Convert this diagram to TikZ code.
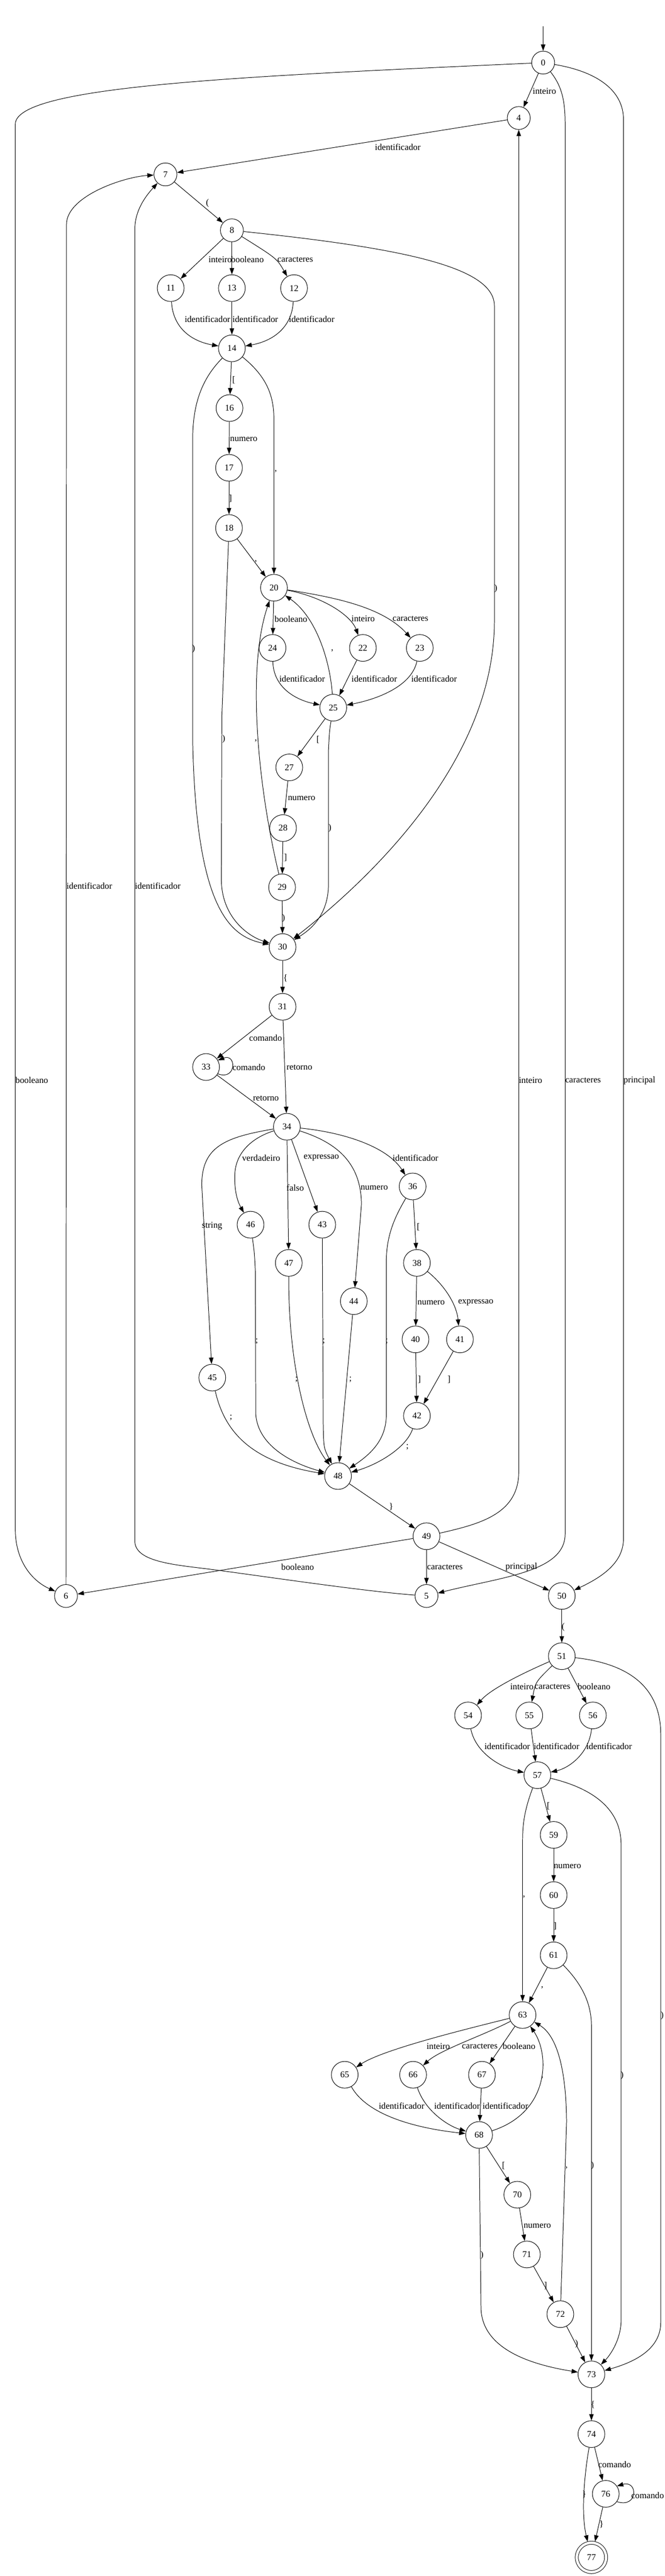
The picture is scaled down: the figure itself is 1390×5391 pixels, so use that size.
\documentclass[tikz,border=0pt]{standalone}
\usepackage{fontspec}
\setmainfont{Liberation Serif}
\usetikzlibrary{arrows.meta}
\newcommand\labw[3]{\node[lbl] (#1) at (#2) {#3};}
\newcommand\labc[3]{\node[lblc] (#1) at (#2) {#3};}
\begin{document}
\begin{tikzpicture}[x=0.75pt,y=-0.75pt,
 st/.style={circle,draw,line width=0.8pt,minimum size=42pt,inner sep=0pt,font=\fontsize{14pt}{16pt}\selectfont},
 sm/.style={st,minimum size=36pt},
 fin/.style={st,minimum size=46pt,double,double distance=4pt,outer sep=2.4pt},
 lbl/.style={inner sep=0pt,anchor=west,font=\fontsize{14pt}{16pt}\selectfont},
 lblc/.style={lbl,anchor=center},
 ed/.style={draw,line width=0.8pt,-{Triangle[length=10pt,width=7pt]}}]
\fill[white] (0,0) rectangle (1390,5391);
\useasboundingbox (0,0) rectangle (1390,5391);
% nodes
\node[sm] (n0) at (1136,131) {0};
\node[sm] (n4) at (1085,247) {4};
\node[sm] (n7) at (346,365) {7};
\node[sm] (n8) at (485,482) {8};
\node[st] (n11) at (357,603) {11};
\node[st] (n13) at (485,603) {13};
\node[st] (n12) at (615,603) {12};
\node[st] (n14) at (485,729) {14};
\node[st] (n16) at (480,854) {16};
\node[st] (n17) at (479,979) {17};
\node[st] (n18) at (479,1105) {18};
\node[st] (n20) at (573,1230) {20};
\node[st] (n24) at (570,1356) {24};
\node[st] (n22) at (759,1356) {22};
\node[st] (n23) at (878,1356) {23};
\node[st] (n25) at (697,1481) {25};
\node[st] (n27) at (605,1606) {27};
\node[st] (n28) at (592,1733) {28};
\node[st] (n29) at (590,1857) {29};
\node[st] (n30) at (591,1982) {30};
\node[st] (n31) at (591,2107) {31};
\node[st] (n33) at (431,2233) {33};
\node[st] (n34) at (600,2358) {34};
\node[st] (n36) at (863,2483) {36};
\node[st] (n46) at (524,2563) {46};
\node[st] (n43) at (674,2563) {43};
\node[st] (n47) at (604,2643) {47};
\node[st] (n38) at (872,2643) {38};
\node[st] (n44) at (740,2723) {44};
\node[st] (n40) at (869,2803) {40};
\node[st] (n41) at (962,2803) {41};
\node[st] (n45) at (444,2883) {45};
\node[st] (n42) at (872,2963) {42};
\node[st] (n48) at (707,3089) {48};
\node[st] (n49) at (892,3215) {49};
\node[sm] (n6) at (138,3340) {6};
\node[sm] (n5) at (892,3340) {5};
\node[st] (n50) at (1175,3340) {50};
\node[st] (n51) at (1175,3466) {51};
\node[st] (n54) at (979,3590) {54};
\node[st] (n55) at (1107,3590) {55};
\node[st] (n56) at (1240,3590) {56};
\node[st] (n57) at (1124,3715) {57};
\node[st] (n59) at (1158,3840) {59};
\node[st] (n60) at (1158,3966) {60};
\node[st] (n61) at (1158,4092) {61};
\node[st] (n63) at (1093,4217) {63};
\node[st] (n65) at (721,4342) {65};
\node[st] (n66) at (864,4342) {66};
\node[st] (n67) at (1008,4342) {67};
\node[st] (n68) at (1002,4468) {68};
\node[st] (n70) at (1082,4593) {70};
\node[st] (n71) at (1102,4718) {71};
\node[st] (n72) at (1172,4843) {72};
\node[st] (n73) at (1237,4969) {73};
\node[st] (n74) at (1237,5094) {74};
\node[st] (n76) at (1267,5219) {76};
\node[fin] (n77) at (1237,5352) {77};
% edges
\coordinate (s0) at (1136,55);
\draw[ed] (s0) -- (n0);
\draw[ed] (n0) -- (n4);
\draw[ed] (n0) .. controls (500,160) and (32,180) .. (32,260) -- (32,3200) .. controls (32,3270) and (70,3310) .. (n6);
\draw[ed] (n0) .. controls (1175,180) and (1182,210) .. (1182,260) -- (1182,3210) .. controls (1182,3290) and (1050,3300) .. (n5);
\draw[ed] (n0) .. controls (1250,150) and (1304,190) .. (1304,250) -- (1304,3220) .. controls (1304,3270) and (1260,3300) .. (n50);
\draw[ed] (n4) -- (n7);
\draw[ed] (n7) -- (n8);
\draw[ed] (n6) -- (139,470) .. controls (139,410) and (260,370) .. (n7);
\draw[ed] (n5) .. controls (760,3330) and (560,3300) .. (447,3285) .. controls (370,3275) and (282,3270) .. (282,3225) -- (282,480) .. controls (282,440) and (305,410) .. (n7);
\draw[ed] (n8) -- (n11);
\draw[ed] (n8) -- (n13);
\draw[ed] (n8) .. controls (579,541) .. (n12);
\draw[ed] (n8) .. controls (850,520) and (1034,560) .. (1034,640) -- (1034,1300) .. controls (1034,1600) and (760,1850) .. (n30);
\draw[ed] (n11) .. controls (362,690) and (405,715) .. (n14);
\draw[ed] (n13) -- (n14);
\draw[ed] (n12) .. controls (610,690) and (565,715) .. (n14);
\draw[ed] (n14) -- (n16);
\draw[ed] (n14) .. controls (425,790) and (403,840) .. (403,920) -- (403,1550) .. controls (410,1900) and (480,1960) .. (n30);
\draw[ed] (n14) .. controls (560,790) and (573,830) .. (573,880) -- (n20);
\draw[ed] (n16) -- (n17);
\draw[ed] (n17) -- (n18);
\draw[ed] (n18) -- (n20);
\draw[ed] (n18) -- (464,1500) -- (463,1840) .. controls (463,1920) and (520,1960) .. (n30);
\draw[ed] (n20) -- (n24);
\draw[ed] (n20) .. controls (680,1250) and (735,1290) .. (n22);
\draw[ed] (n20) .. controls (700,1250) and (800,1270) .. (n23);
\draw[ed] (n24) .. controls (572,1440) and (620,1465) .. (n25);
\draw[ed] (n22) -- (n25);
\draw[ed] (n23) .. controls (860,1440) and (780,1465) .. (n25);
\draw[ed] (n25) .. controls (690,1380) and (660,1290) .. (n20);
\draw[ed] (n25) -- (n27);
\draw[ed] (n25) .. controls (689,1530) .. (687,1570) -- (687,1850) .. controls (687,1915) and (650,1945) .. (n30);
\draw[ed] (n27) -- (n28);
\draw[ed] (n28) -- (n29);
\draw[ed] (n29) .. controls (540,1650) and (515,1400) .. (n20);
\draw[ed] (n29) -- (n30);
\draw[ed] (n30) -- (n31);
\draw[ed] (n31) -- (n33);
\draw[ed] (n31) -- (n34);
\draw[ed] (n33.-30) .. controls (495,2262) and (495,2204) .. (n33.30);
\draw[ed] (n33) -- (n34);
\draw[ed] (n34) .. controls (470,2380) and (422,2400) .. (422,2480) -- (n45);
\draw[ed] (n34) .. controls (530,2380) and (492,2410) .. (491,2460) .. controls (490,2500) and (500,2520) .. (n46);
\draw[ed] (n34) -- (n47);
\draw[ed] (n34) -- (n43);
\draw[ed] (n34) .. controls (700,2390) and (755,2430) .. (756,2520) -- (n44);
\draw[ed] (n34) .. controls (720,2370) and (810,2400) .. (n36);
\draw[ed] (n36) -- (n38);
\draw[ed] (n36) .. controls (830,2540) and (808,2580) .. (808,2640) -- (808,2960) .. controls (808,3010) and (780,3040) .. (n48);
\draw[ed] (n46) .. controls (532,2620) .. (534,2660) -- (535,2960) .. controls (540,3030) and (620,3065) .. (n48);
\draw[ed] (n43) -- (676,2980) .. controls (677,3030) .. (n48);
\draw[ed] (n47) .. controls (603,2850) and (640,3000) .. (n48);
\draw[ed] (n44) -- (n48);
\draw[ed] (n45) .. controls (470,3000) and (530,3060) .. (n48);
\draw[ed] (n38) -- (n40);
\draw[ed] (n38) .. controls (930,2690) and (955,2730) .. (n41);
\draw[ed] (n40) -- (n42);
\draw[ed] (n41) -- (n42);
\draw[ed] (n42) .. controls (850,3030) and (790,3065) .. (n48);
\draw[ed] (n48) -- (n49);
\draw[ed] (n49) .. controls (1000,3190) and (1085,3170) .. (1085,3080) -- (n4);
\draw[ed] (n49) -- (n6);
\draw[ed] (n49) -- (n5);
\draw[ed] (n49) -- (n50);
\draw[ed] (n50) -- (n51);
\draw[ed] (n51) .. controls (1120,3490) and (1030,3530) .. (n54);
\draw[ed] (n51) .. controls (1120,3520) .. (n55);
\draw[ed] (n51) -- (n56);
\draw[ed] (n51) .. controls (1300,3480) and (1382,3520) .. (1382,3630) -- (1382,4860) .. controls (1382,4920) and (1320,4945) .. (n73);
\draw[ed] (n54) .. controls (995,3670) and (1050,3700) .. (n57);
\draw[ed] (n55) -- (n57);
\draw[ed] (n56) .. controls (1232,3670) and (1190,3700) .. (n57);
\draw[ed] (n57) -- (n59);
\draw[ed] (n57) .. controls (1100,3780) and (1093,3810) .. (1093,3850) -- (n63);
\draw[ed] (n57) .. controls (1230,3740) and (1299,3780) .. (1299,3860) -- (1299,4860) .. controls (1297,4900) and (1275,4930) .. (n73);
\draw[ed] (n59) -- (n60);
\draw[ed] (n60) -- (n61);
\draw[ed] (n61) -- (n63);
\draw[ed] (n61) .. controls (1215,4150) and (1237,4190) .. (1237,4240) -- (n73);
\draw[ed] (n63) .. controls (960,4250) and (800,4290) .. (n65);
\draw[ed] (n63) .. controls (1010,4260) and (920,4290) .. (n66);
\draw[ed] (n63) -- (n67);
\draw[ed] (n65) .. controls (770,4430) and (880,4455) .. (n68);
\draw[ed] (n66) .. controls (890,4420) and (940,4450) .. (n68);
\draw[ed] (n67) -- (n68);
\draw[ed] (n68) .. controls (1150,4420) and (1150,4300) .. (n63);
\draw[ed] (n72) -- (1185,4440) .. controls (1184,4330) and (1165,4260) .. (n63);
\draw[ed] (n68) -- (n70);
\draw[ed] (n68) -- (1006,4830) .. controls (1008,4920) and (1120,4950) .. (n73);
\draw[ed] (n70) -- (n71);
\draw[ed] (n71) -- (n72);
\draw[ed] (n72) -- (n73);
\draw[ed] (n73) -- (n74);
\draw[ed] (n74) -- (n76);
\draw[ed] (n74) .. controls (1222,5180) and (1215,5260) .. (n77);
\draw[ed] (n76.-35) .. controls (1335,5250) and (1335,5190) .. (n76.35);
\draw[ed] (n76) -- (n77);
% labels
\labw{a1}{1114,191}{inteiro}
\labw{a2}{32,2261}{booleano}
\labw{a3}{1182,2261}{caracteres}
\labw{a4}{1304,2261}{principal}
\labc{a5}{832,308}{identificador}
\labc{a6}{434,425}{(}
\labw{a7}{139,1854}{identificador}
\labw{a8}{282,1854}{identificador}
\labw{a9}{436,543}{inteiro}
\labw{a10}{483,543}{booleano}
\labw{a11}{580,543}{caracteres}
\labc{a12}{1037,1232}{)}
\labw{a13}{386,668}{identificador}
\labw{a14}{486,668}{identificador}
\labw{a15}{604,668}{identificador}
\labc{a16}{489,795}{[}
\labc{a17}{405,1358}{)}
\labc{a18}{577,986}{,}
\labw{a19}{481,919}{numero}
\labc{a20}{482,1043}{]}
\labc{a21}{535,1175}{,}
\labc{a22}{468,1547}{)}
\labw{a23}{574,1295}{booleano}
\labw{a24}{735,1295}{inteiro}
\labw{a25}{821,1295}{caracteres}
\labw{a26}{584,1420}{identificador}
\labw{a27}{735,1420}{identificador}
\labw{a28}{860,1420}{identificador}
\labc{a29}{695,1362}{,}
\labc{a30}{665,1548}{[}
\labc{a31}{690,1733}{)}
\labw{a32}{602,1671}{numero}
\labc{a33}{597,1795}{]}
\labc{a34}{535,1550}{,}
\labc{a35}{593,1922}{)}
\labc{a36}{597,2047}{\{}
\labw{a37}{521,2172}{comando}
\labw{a38}{599,2234}{retorno}
\labw{a39}{486,2234}{comando}
\labw{a40}{529,2298}{retorno}
\labw{a41}{422,2566}{string}
\labw{a42}{506,2423}{verdadeiro}
\labw{a43}{599,2486}{falso}
\labw{a44}{635,2423}{expressao}
\labw{a45}{754,2486}{numero}
\labw{a46}{821,2423}{identificador}
\labc{a47}{875,2568}{[}
\labc{a48}{809,2807}{;}
\labc{a49}{537,2807}{;}
\labc{a50}{677,2807}{;}
\labc{a51}{620,2887}{;}
\labc{a52}{733,2887}{;}
\labc{a53}{483,2967}{;}
\labw{a54}{873,2726}{numero}
\labw{a55}{958,2726}{expressao}
\labc{a56}{877,2887}{]}
\labc{a57}{939,2887}{]}
\labc{a58}{852,3028}{;}
\labc{a59}{818,3153}{\}}
\labw{a60}{1085,2261}{inteiro}
\labw{a61}{588,3279}{booleano}
\labw{a62}{893,3279}{caracteres}
\labw{a63}{1057,3279}{principal}
\labc{a64}{1178,3405}{(}
\labw{a65}{1067,3530}{inteiro}
\labw{a66}{1118,3530}{caracteres}
\labw{a67}{1208,3530}{booleano}
\labc{a68}{1385,4218}{)}
\labw{a69}{1013,3655}{identificador}
\labw{a70}{1116,3655}{identificador}
\labw{a71}{1226,3655}{identificador}
\labc{a72}{1147,3780}{[}
\labc{a73}{1096,3970}{,}
\labc{a74}{1301,4343}{)}
\labw{a75}{1158,3906}{numero}
\labc{a76}{1161,4031}{]}
\labc{a77}{1134,4160}{,}
\labc{a78}{1239,4532}{)}
\labw{a79}{892,4282}{inteiro}
\labw{a80}{966,4282}{caracteres}
\labw{a81}{1051,4282}{booleano}
\labw{a82}{792,4407}{identificador}
\labw{a83}{908,4407}{identificador}
\labw{a84}{1009,4407}{identificador}
\labc{a85}{1134,4348}{,}
\labc{a86}{1185,4537}{,}
\labc{a87}{1053,4532}{[}
\labc{a88}{1008,4720}{)}
\labw{a89}{1095,4658}{numero}
\labc{a90}{1141,4783}{]}
\labc{a91}{1206,4905}{)}
\labc{a92}{1240,5033}{\{}
\labw{a93}{1251,5158}{comando}
\labc{a94}{1222,5220}{\}}
\labw{a95}{1320,5222}{comando}
\labc{a96}{1258,5283}{\}}
\end{tikzpicture}
\end{document}
